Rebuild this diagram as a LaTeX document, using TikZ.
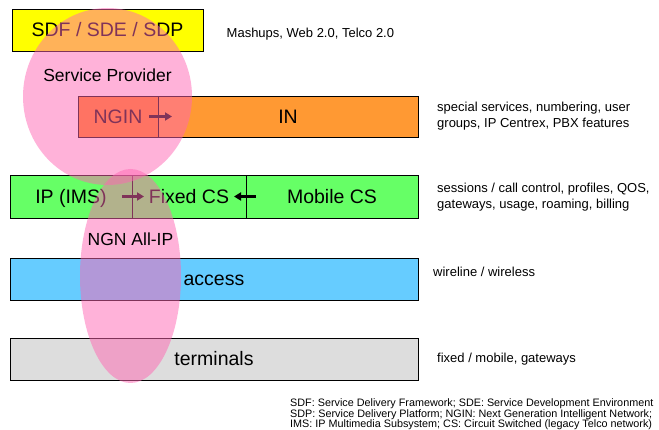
\documentclass[tikz,border=0pt]{standalone}
\usepackage{fontspec}
\setmainfont{Liberation Sans}
\usetikzlibrary{arrows.meta, positioning}
\definecolor{cDelivery}{RGB}{255,255,0}
\definecolor{cNGIN}{RGB}{255,130,20}
\definecolor{cIN}{RGB}{255,153,51}
\definecolor{cCore}{RGB}{102,255,102}
\definecolor{cAccess}{RGB}{102,204,255}
\definecolor{cTerminal}{RGB}{221,221,221}
\definecolor{cZone}{RGB}{255,102,179}

\begin{document}
\begin{tikzpicture}[x=1pt, y=-1pt,
  layer/.style={draw, line width=0.9pt, outer sep=0pt, inner sep=0pt, minimum height=42pt,
    text height=14pt, text depth=0pt, font=\fontsize{19.5}{23}\selectfont},
  note/.style={anchor=west, align=left, inner sep=0pt, font=\fontsize{13}{16}\selectfont},
  tag/.style={inner sep=0pt, font=\fontsize{17.5}{21}\selectfont},
  zone/.style={fill=cZone, fill opacity=0.5},
  arr/.style={-{Triangle[length=7pt, width=8pt]}, line width=2.5pt}]
  \useasboundingbox (0,0) rectangle (659,430);
  \clip (0,0) rectangle (659,430);

  % layers
  \node[layer, fill=cDelivery, minimum width=191pt] (sdf) at (107.5,30) {SDF / SDE / SDP};
  \node[layer, fill=cNGIN, minimum width=80pt, minimum height=41pt] (ngin) at (118,116.5) {NGIN};
  \node[layer, fill=cIN, minimum width=260pt, minimum height=41pt, right=0pt of ngin] (in) {IN};
  \node[layer, fill=cCore, minimum width=122pt, minimum height=43pt] (ip) at (71,196.5) {IP (IMS)};
  \node[layer, fill=cCore, minimum width=114pt, minimum height=43pt, right=0pt of ip] (fixed) {Fixed CS};
  \node[layer, fill=cCore, minimum width=172pt, minimum height=43pt, right=0pt of fixed] (mobile) {Mobile CS};
  \node[layer, fill=cAccess, minimum width=408pt] (access) at (214,279) {access};
  \node[layer, fill=cTerminal, minimum width=408pt] (terms) at (214,359) {terminals};

  \draw[arr] ([xshift=-9pt]ngin.east) -- ([xshift=14pt]ngin.east);
  \draw[arr] ([xshift=-10pt]ip.east) -- ([xshift=12pt]ip.east);
  \draw[arr] ([xshift=10pt]mobile.west) -- ([xshift=-12pt]mobile.west);

  % zones on top
  \fill[zone] (107.5,96.5) ellipse [x radius=84.5pt, y radius=88.5pt];
  \fill[zone] (130.5,276) ellipse [x radius=50.5pt, y radius=107pt];
  \node[tag] (sp) at (107.5,75) {Service Provider};
  \node[tag] (ngn) at (130.5,239.5) {NGN All-IP};

  % descriptions
  \node[note] (mash) at (226.5,34) {Mashups, Web 2.0, Telco 2.0};
  \node[note] (innote) at (437,116.5) {special services, numbering, user\\groups, IP Centrex, PBX features};
  \node[note] (corenote) at (437,197.5) {sessions / call control, profiles, QOS,\\gateways, usage, roaming, billing};
  \node[note] (accnote) at (433,271.5) {wireline / wireless};
  \node[note] (termnote) at (437,359) {fixed / mobile, gateways};

  \node[anchor=north west, align=left, inner sep=0pt, font=\fontsize{10.8}{10.7}\selectfont] (legend) at (290,398.5)
    {SDF: Service Delivery Framework; SDE: Service Development Environment\\
     SDP: Service Delivery Platform; NGIN: Next Generation Intelligent Network;\\
     IMS: IP Multimedia Subsystem; CS: Circuit Switched (legacy Telco network)};
\end{tikzpicture}
\end{document}
